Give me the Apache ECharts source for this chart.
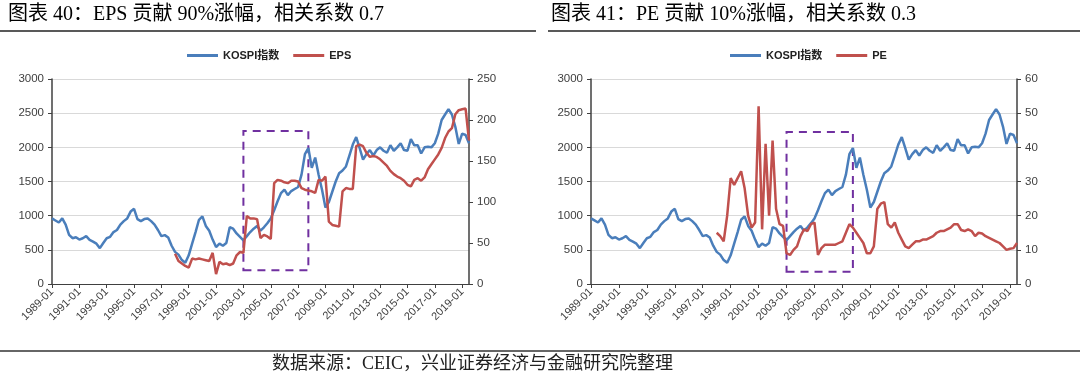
<!DOCTYPE html>
<html>
<head>
<meta charset="utf-8">
<script src="https://cdn.jsdelivr.net/npm/echarts@6/dist/echarts.min.js"></script>
<style>
html,body{margin:0;padding:0;background:#fff;}
#c{width:1080px;height:382px;}
</style>
</head>
<body>
<div id="c"></div>
<script>
// Quarterly categories 1989-01 .. 2019-07
const categories = [];
for (let y = 1989; y <= 2019; y++) {
  for (const m of ['01', '04', '07', '10']) {
    if (y === 2019 && m === '10') break;
    categories.push(y + '-' + m);
  }
}

const kospi = [
  960, 930, 900, 960, 870, 720, 670, 685, 650, 670,
  700, 645, 620, 590, 525, 600, 670, 690, 760, 790,
  870, 920, 960, 1060, 1100, 950, 920, 950, 960, 920,
  870, 790, 700, 715, 680, 560, 470, 430, 350, 310,
  420, 590, 760, 940, 990, 850, 780, 650, 540, 590,
  560, 600, 830, 810, 740, 690, 640, 700, 760, 810,
  850, 780, 830, 890, 960, 1080, 1210, 1330, 1380, 1300,
  1360, 1390, 1420, 1600, 1900, 1990, 1700, 1850, 1600, 1380,
  1120, 1200, 1350, 1500, 1620, 1660, 1720, 1880, 2040, 2150,
  1990, 1820, 1900, 1960, 1880, 1960, 2000, 1950, 1920, 2030,
  1950, 2000, 2060, 1960, 1950, 2120, 2030, 2030, 1910, 2000,
  2010, 2000, 2060, 2200, 2400, 2480, 2560, 2480, 2300, 2050,
  2200, 2180, 2060
];

const epsFrom1998 = [
  37, 28, 25, 22,
  20, 31, 30, 31, 30, 29, 28, 38, 12, 27,
  24, 25, 23, 25, 35, 39, 38, 83, 80, 80,
  79, 56, 60, 58, 55, 123, 127, 126, 124, 123,
  126, 126, 125, 117, 115, 114, 113, 111, 127, 126,
  131, 76, 72, 71, 70, 113, 117, 116, 116, 168,
  170, 168, 160, 155, 156, 155, 152, 148, 144, 138,
  134, 131, 129, 126, 121, 119, 127, 129, 126, 130,
  140, 146, 152, 158, 166, 178, 186, 190, 207, 212,
  213, 214, 175
];

const peFrom1998 = [
  15, 14, 12.5, 20,
  31, 29, 31, 33, 28, 20, 16.5, 18, 52, 16,
  41, 20, 42, 22, 17.5, 17, 9, 8.5, 10, 11,
  14, 16, 15.5, 17.5, 18, 8.5, 10.5, 11.5, 11.5, 11.5,
  11.5, 12, 12.5, 15, 17.5, 16.5, 15, 13.5, 12, 9,
  9, 11, 22, 23.5, 24, 17.5, 16.5, 18, 15, 13,
  11, 10.5, 11.5, 12.5, 12.5, 13, 13, 13.5, 14, 15,
  15.5, 15.5, 16, 16.5, 17.5, 17.5, 15.8, 15.5, 16, 15.5,
  14, 15, 14.8, 14, 13.5, 13, 12.5, 12, 11, 10,
  10.3, 10.5, 12
];

const leadNulls = new Array(36).fill(null);
const eps = leadNulls.concat(epsFrom1998);
const pe = leadNulls.concat(peFrom1998);

const boxStart = '2003-01';
const boxEnd = '2007-10';

const BLUE = '#4A7EBB';
const RED = '#C0504D';
const PURPLE = '#7030A0';
const SERIF = "'Liberation Serif','Noto Sans CJK SC',serif";
const SANS = "'Liberation Sans','Noto Sans CJK SC',sans-serif";

function xAxisCfg(gridIndex) {
  return {
    type: 'category', gridIndex: gridIndex, data: categories, boundaryGap: false,
    axisLine: { lineStyle: { color: '#404040', width: 1 } },
    axisTick: { interval: 7, length: 4, lineStyle: { color: '#404040' } },
    axisLabel: { interval: 7, rotate: 45, fontSize: 11, color: '#404040', fontFamily: SANS, margin: 6 },
    splitLine: { show: false }
  };
}
function yAxisCfg(gridIndex, pos, max, interval, grid) {
  return {
    type: 'value', gridIndex: gridIndex, position: pos, min: 0, max: max, interval: interval,
    axisLine: { show: true, lineStyle: { color: '#404040', width: 1.5 } },
    axisTick: { show: true, length: 4, lineStyle: { color: '#404040' } },
    axisLabel: { fontSize: 11.5, color: '#404040', fontFamily: SANS, margin: 8,
      formatter: function (v) { return String(v); } },
    splitLine: { show: grid, lineStyle: { color: '#D9D9D9', width: 1 } }
  };
}
const boxStyle = {
  silent: true,
  itemStyle: { color: 'rgba(0,0,0,0)', borderColor: PURPLE, borderWidth: 2, borderType: [8, 6] },
  label: { show: false }
};

const chart = echarts.init(document.getElementById('c'), null, { renderer: 'canvas' });
chart.setOption({
  animation: false,
  backgroundColor: '#fff',
  title: [
    { text: '图表 40：EPS 贡献 90%涨幅，相关系数 0.7', left: 8, top: 5, padding: 0,
      textStyle: { fontFamily: SERIF, fontSize: 20, fontWeight: 'normal', color: '#000' } },
    { text: '图表 41：PE 贡献 10%涨幅，相关系数 0.3', left: 551, top: 5, padding: 0,
      textStyle: { fontFamily: SERIF, fontSize: 20, fontWeight: 'normal', color: '#000' } },
    { text: '数据来源：CEIC，兴业证券经济与金融研究院整理', left: 272, top: 355, padding: 0,
      textStyle: { fontFamily: SERIF, fontSize: 18, fontWeight: 'normal', color: '#222' } }
  ],
  graphic: [
    { type: 'line', shape: { x1: 0, y1: 31, x2: 536, y2: 31 }, style: { stroke: '#595959', lineWidth: 2 } },
    { type: 'line', shape: { x1: 548, y1: 31, x2: 1080, y2: 31 }, style: { stroke: '#595959', lineWidth: 2 } },
    { type: 'line', shape: { x1: 0, y1: 351, x2: 1080, y2: 351 }, style: { stroke: '#666', lineWidth: 2 } }
  ],
  legend: [
    { left: 182, top: 45, itemWidth: 31, itemHeight: 3, itemGap: 14, icon: 'rect', data: ['KOSPI指数', 'EPS'],
      textStyle: { fontSize: 11, fontWeight: 'bold', color: '#222', fontFamily: SANS } },
    { left: 725, top: 45, itemWidth: 31, itemHeight: 3, itemGap: 14, icon: 'rect', data: ['KOSPI指数', 'PE'],
      textStyle: { fontSize: 11, fontWeight: 'bold', color: '#222', fontFamily: SANS } }
  ],
  grid: [
    { left: 52, top: 79, width: 417, height: 205 },
    { left: 591, top: 79, width: 426, height: 205 }
  ],
  xAxis: [xAxisCfg(0), xAxisCfg(1)],
  yAxis: [
    yAxisCfg(0, 'left', 3000, 500, true),
    yAxisCfg(0, 'right', 250, 50, false),
    yAxisCfg(1, 'left', 3000, 500, true),
    yAxisCfg(1, 'right', 60, 10, false)
  ],
  series: [
    { name: 'KOSPI指数', type: 'line', xAxisIndex: 0, yAxisIndex: 0, data: kospi, showSymbol: false,
      color: BLUE, lineStyle: { width: 2.5, color: BLUE }, z: 2,
      markArea: Object.assign({ data: [[{ xAxis: boxStart, yAxis: 200 }, { xAxis: boxEnd, yAxis: 2240 }]] }, boxStyle) },
    { name: 'EPS', type: 'line', xAxisIndex: 0, yAxisIndex: 1, data: eps, showSymbol: false,
      color: RED, lineStyle: { width: 2.5, color: RED }, z: 3 },
    { name: 'KOSPI指数', type: 'line', xAxisIndex: 1, yAxisIndex: 2, data: kospi, showSymbol: false,
      color: BLUE, lineStyle: { width: 2.5, color: BLUE }, z: 2,
      markArea: Object.assign({ data: [[{ xAxis: boxStart, yAxis: 180 }, { xAxis: boxEnd, yAxis: 2224 }]] }, boxStyle) },
    { name: 'PE', type: 'line', xAxisIndex: 1, yAxisIndex: 3, data: pe, showSymbol: false,
      color: RED, lineStyle: { width: 2.5, color: RED }, z: 3 }
  ]
});
</script>
</body>
</html>
